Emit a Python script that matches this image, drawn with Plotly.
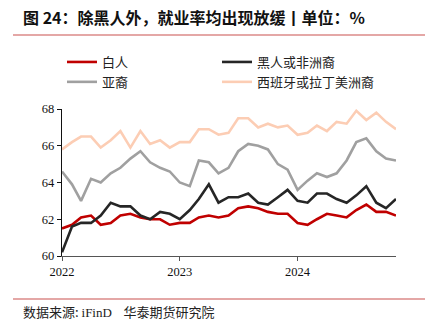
import pandas as pd
import plotly.graph_objects as go

# Monthly employment-population ratios by race/ethnicity, 2022-01 .. 2024-11 (%)
months = pd.date_range("2022-01-01", periods=35, freq="MS")

white = [61.5, 61.7, 62.1, 62.2, 61.7, 61.8, 62.2, 62.3, 62.1, 62.0, 62.0, 61.7,
         61.8, 61.8, 62.1, 62.2, 62.1, 62.2, 62.6, 62.7, 62.6, 62.4, 62.3, 62.3,
         61.8, 61.7, 62.0, 62.3, 62.2, 62.1, 62.5, 62.8, 62.4, 62.4, 62.2]
black = [60.2, 61.6, 61.8, 61.8, 62.2, 62.9, 62.7, 62.7, 62.2, 62.0, 62.4, 62.3,
         62.0, 62.5, 63.1, 63.9, 62.9, 63.2, 63.2, 63.4, 62.9, 62.8, 63.2, 63.6,
         63.0, 62.9, 63.4, 63.4, 63.1, 62.9, 63.3, 63.8, 62.9, 62.6, 63.1]
asian = [64.6, 63.9, 63.0, 64.2, 64.0, 64.5, 64.8, 65.3, 65.7, 65.1, 64.8, 64.6,
         64.0, 63.8, 65.2, 65.1, 64.5, 64.8, 65.7, 66.1, 66.0, 65.8, 65.0, 64.7,
         63.6, 64.1, 64.5, 64.3, 64.5, 65.2, 66.2, 66.4, 65.7, 65.3, 65.2]
hispanic = [65.8, 66.2, 66.5, 66.5, 65.9, 66.3, 66.8, 65.9, 66.8, 66.1, 66.3, 65.9,
            66.2, 66.2, 66.9, 66.9, 66.6, 66.7, 67.5, 67.5, 67.0, 67.2, 67.0, 67.1,
            66.6, 66.7, 67.1, 66.8, 67.3, 67.2, 67.9, 67.4, 67.8, 67.3, 66.9]

series_names = ["白人", "黑人或非洲裔", "亚裔", "西班牙或拉丁美洲裔"]
series_colors = ["#C00000", "#262626", "#A0A0A0", "#FCCDB4"]
# legend column for each series (two-column legend)
series_legend = ["legend", "legend2", "legend", "legend2"]

y_ticks = [60, 62, 64, 66, 68]
x_tick_labels = ["2022", "2023", "2024"]

W, H = 435, 323
ML, MR, MT, MB = 62, 39, 109, 67
PW, PH = W - ML - MR, H - MT - MB


def px_x(x):
    return (x - ML) / PW


def px_y(y):
    return (H - MB - y) / PH


fig = go.Figure()
for name, vals, col, lg in zip(series_names, [white, black, asian, hispanic],
                               series_colors, series_legend):
    fig.add_trace(go.Scatter(x=months, y=vals, name=name, mode="lines", legend=lg,
                             line=dict(color=col, width=2.6)))

serif = "Liberation Serif"
cjk = "Noto Sans CJK SC"

legend_style = dict(orientation="v", xanchor="left", yanchor="top",
                    font=dict(family=cjk, size=13, color="#222"),
                    bgcolor="rgba(0,0,0,0)", tracegroupgap=0)

fig.update_layout(
    width=W, height=H,
    margin=dict(l=ML, r=MR, t=MT, b=MB),
    paper_bgcolor="white", plot_bgcolor="white",
    showlegend=True,
    legend=dict(x=px_x(62), y=px_y(47), **legend_style),
    legend2=dict(x=px_x(217), y=px_y(47), **legend_style),
    xaxis=dict(
        range=[months[0], months[-1]],
        tickvals=[months[0], months[12], months[24]],
        ticktext=x_tick_labels,
        showgrid=False, zeroline=False,
        showline=True, linecolor="#555", linewidth=1.3,
        ticks="outside", ticklen=4, tickcolor="#555",
        tickfont=dict(family=serif, size=12.5, color="#111"),
    ),
    yaxis=dict(
        range=[60, 68],
        tickvals=y_ticks,
        showgrid=False, zeroline=False,
        showline=True, linecolor="#111", linewidth=1.3,
        ticks="outside", ticklen=4, tickcolor="#111",
        tickfont=dict(family=serif, size=12.5, color="#111"),
    ),
)

# title, separator rules and source note
fig.add_annotation(text="<b>图 24：除黑人外，就业率均出现放缓丨单位：%</b>",
                   xref="paper", yref="paper", x=px_x(21), y=px_y(17),
                   xanchor="left", yanchor="middle", showarrow=False,
                   font=dict(family=cjk, size=16, color="#111"))
for yy in (35, 299):
    fig.add_shape(type="line", xref="paper", yref="paper",
                  x0=px_x(13), x1=px_x(425), y0=px_y(yy), y1=px_y(yy),
                  line=dict(color="#C9504F", width=1.2))
fig.add_annotation(text="数据来源: <span style=\"font-family:Liberation Serif\">iFinD</span>"
                        "&nbsp;&nbsp;&nbsp; 华泰期货研究院",
                   xref="paper", yref="paper", x=px_x(21), y=px_y(311),
                   xanchor="left", yanchor="middle", showarrow=False,
                   font=dict(family=cjk, size=13, color="#222"))

fig.write_html("out.html")
